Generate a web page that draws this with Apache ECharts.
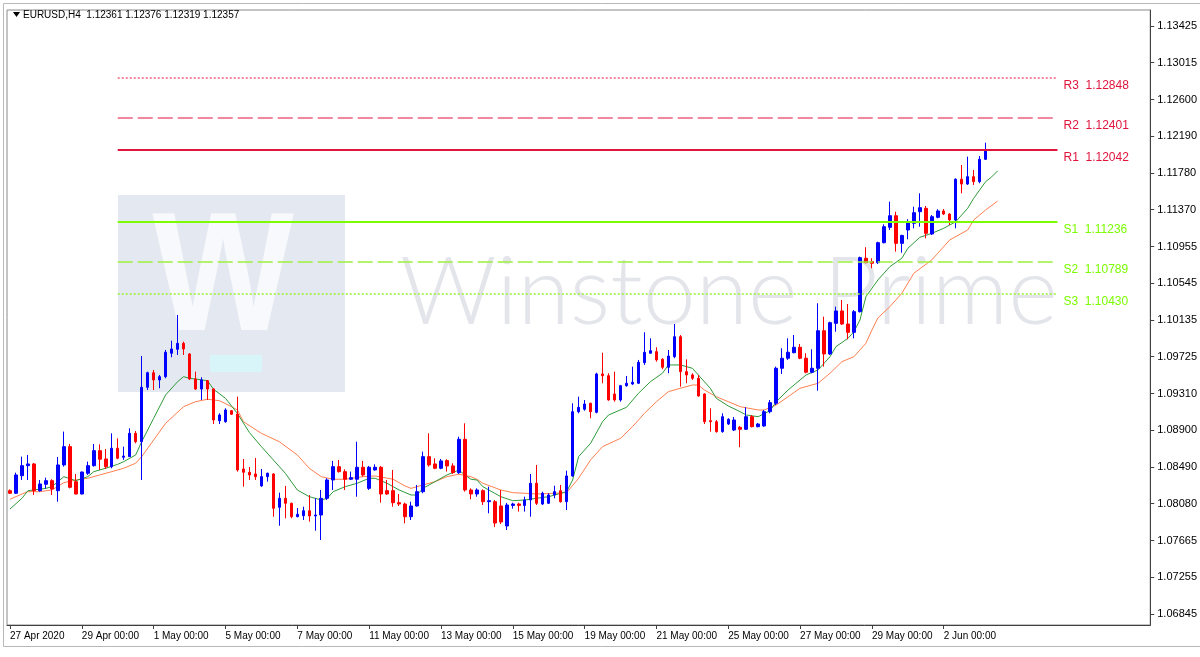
<!DOCTYPE html>
<html><head><meta charset="utf-8">
<script src="https://cdn.jsdelivr.net/npm/echarts@6/dist/echarts.min.js"></script>
<style>html,body{margin:0;padding:0;background:#fff}#c{width:1200px;height:657px}</style>
</head><body><div id="c"></div>
<script>
// ---- data (EURUSD H4) ----
const opens = [1.08225,1.08196,1.08393,1.08505,1.08524,1.08225,1.08297,1.08337,1.08225,1.08513,1.08718,1.08326,1.08188,1.08420,1.08505,1.08673,1.08580,1.08494,1.08700,1.08599,1.08606,1.08867,1.08773,1.09382,1.09545,1.09464,1.09501,1.09763,1.09807,1.09874,1.09755,1.09475,1.09363,1.09456,1.09363,1.09008,1.08997,1.09120,1.09083,1.08468,1.08431,1.08412,1.08278,1.08382,1.08412,1.08039,1.08140,1.08084,1.07934,1.07945,1.08001,1.07942,1.07953,1.08140,1.08345,1.08494,1.08438,1.08353,1.08353,1.08487,1.08251,1.08457,1.08487,1.08225,1.08225,1.08091,1.08076,1.07934,1.08054,1.08214,1.08606,1.08524,1.08476,1.08562,1.08502,1.08427,1.08800,1.08233,1.08188,1.08225,1.08102,1.08102,1.08054,1.07830,1.08060,1.08076,1.08060,1.08121,1.08308,1.08076,1.08084,1.08177,1.08225,1.08102,1.08390,1.09109,1.09136,1.09203,1.09102,1.09531,1.09512,1.09307,1.09240,1.09400,1.09419,1.09427,1.09658,1.09763,1.09781,1.09696,1.09606,1.09725,1.09948,1.09557,1.09520,1.09483,1.09307,1.09008,1.08997,1.08886,1.08971,1.08904,1.08934,1.08912,1.09053,1.08941,1.08949,1.09109,1.09203,1.09595,1.09707,1.09769,1.09830,1.09707,1.09550,1.09595,1.10015,1.09755,1.10098,1.10236,1.10090,1.09997,1.10228,1.10826,1.10788,1.10777,1.11000,1.11172,1.11302,1.10993,1.11142,1.11217,1.11347,1.11385,1.11098,1.11284,1.11355,1.11321,1.11254,1.11710,1.11657,1.11739,1.11683,1.11933];
const highs = [1.08240,1.08427,1.08606,1.08625,1.08535,1.08345,1.08371,1.08353,1.08602,1.08886,1.08748,1.08412,1.08438,1.08550,1.08748,1.08744,1.08692,1.08867,1.08811,1.08718,1.08923,1.08893,1.09732,1.09557,1.09576,1.09520,1.09800,1.09904,1.10191,1.09893,1.09763,1.09557,1.09494,1.09464,1.09371,1.09091,1.09147,1.09128,1.09277,1.08580,1.08490,1.08591,1.08468,1.08427,1.08420,1.08203,1.08278,1.08091,1.08031,1.08046,1.08177,1.08140,1.08233,1.08364,1.08558,1.08569,1.08465,1.08438,1.08773,1.08558,1.08502,1.08520,1.08502,1.08345,1.08457,1.08188,1.08091,1.08102,1.08289,1.08662,1.08867,1.08588,1.08580,1.08577,1.08532,1.08829,1.08979,1.08251,1.08251,1.08240,1.08270,1.08121,1.08233,1.08088,1.08091,1.08091,1.08158,1.08412,1.08513,1.08214,1.08196,1.08281,1.08289,1.08449,1.09203,1.09277,1.09240,1.09210,1.09545,1.09769,1.09539,1.09557,1.09408,1.09509,1.09613,1.09688,1.09998,1.09930,1.09830,1.09707,1.09800,1.10090,1.09967,1.09695,1.09539,1.09520,1.09315,1.09147,1.09016,1.09091,1.09035,1.09050,1.08949,1.09158,1.09072,1.08983,1.09128,1.09240,1.09613,1.09819,1.09930,1.09967,1.09867,1.09763,1.09808,1.10322,1.10172,1.10116,1.10284,1.10359,1.10314,1.10247,1.10844,1.10949,1.10826,1.11011,1.11206,1.11459,1.11347,1.11089,1.11262,1.11403,1.11553,1.11411,1.11310,1.11374,1.11377,1.11329,1.11721,1.11870,1.11963,1.11814,1.11970,1.12119];
const lows = [1.08188,1.08188,1.08345,1.08345,1.08177,1.08214,1.08251,1.08177,1.08102,1.08494,1.08251,1.08183,1.08183,1.08401,1.08494,1.08457,1.08468,1.08476,1.08577,1.08569,1.08602,1.08755,1.08345,1.09352,1.09352,1.09371,1.09483,1.09718,1.09744,1.09744,1.09464,1.09352,1.09240,1.09240,1.08971,1.08971,1.08986,1.09072,1.08438,1.08270,1.08345,1.08345,1.08270,1.08326,1.07934,1.07833,1.07916,1.07916,1.07927,1.07897,1.07878,1.07777,1.07673,1.08121,1.08233,1.08427,1.08233,1.08345,1.08158,1.08382,1.08233,1.08450,1.08091,1.08177,1.08046,1.08054,1.07860,1.07897,1.08046,1.08196,1.08494,1.08465,1.08465,1.08438,1.08412,1.08412,1.08214,1.08129,1.08158,1.08065,1.07972,1.07818,1.07852,1.07785,1.08024,1.07991,1.07991,1.07934,1.08065,1.08065,1.08076,1.08140,1.08091,1.08009,1.08382,1.09091,1.09120,1.09035,1.09091,1.09427,1.09232,1.09221,1.09221,1.09389,1.09408,1.09419,1.09632,1.09760,1.09669,1.09584,1.09539,1.09707,1.09389,1.09427,1.09464,1.09277,1.08971,1.08886,1.08874,1.08874,1.08960,1.08893,1.08711,1.08904,1.08934,1.08934,1.08941,1.09091,1.09184,1.09531,1.09688,1.09763,1.09696,1.09539,1.09539,1.09344,1.09613,1.09744,1.10004,1.10079,1.09919,1.09930,1.10219,1.10770,1.10714,1.10762,1.10993,1.11142,1.10900,1.10888,1.11038,1.11161,1.11179,1.11049,1.11086,1.11273,1.11310,1.11198,1.11161,1.11553,1.11646,1.11646,1.11665,1.11926];
const closes = [1.08196,1.08401,1.08505,1.08524,1.08225,1.08300,1.08337,1.08244,1.08513,1.08718,1.08263,1.08188,1.08434,1.08505,1.08673,1.08577,1.08494,1.08700,1.08588,1.08613,1.08867,1.08773,1.09382,1.09545,1.09464,1.09501,1.09774,1.09811,1.09874,1.09811,1.09475,1.09363,1.09464,1.09363,1.09016,1.09072,1.09128,1.09080,1.08457,1.08431,1.08401,1.08382,1.08382,1.08420,1.08028,1.08140,1.08084,1.07934,1.07961,1.08001,1.07942,1.07953,1.08140,1.08345,1.08494,1.08438,1.08353,1.08371,1.08487,1.08401,1.08487,1.08487,1.08188,1.08188,1.08091,1.08076,1.07934,1.08054,1.08214,1.08606,1.08513,1.08476,1.08558,1.08502,1.08427,1.08800,1.08233,1.08188,1.08233,1.08102,1.08113,1.07863,1.07875,1.08065,1.08076,1.08060,1.08121,1.08308,1.08084,1.08196,1.08177,1.08214,1.08102,1.08390,1.09109,1.09158,1.09195,1.09109,1.09531,1.09512,1.09240,1.09240,1.09400,1.09427,1.09438,1.09662,1.09774,1.09792,1.09688,1.09606,1.09732,1.09948,1.09557,1.09520,1.09483,1.09285,1.08997,1.08997,1.08886,1.09053,1.09024,1.09016,1.08912,1.09053,1.08941,1.08971,1.09109,1.09210,1.09595,1.09707,1.09774,1.09830,1.09707,1.09550,1.09595,1.10015,1.09755,1.10105,1.10236,1.10090,1.09997,1.10228,1.10833,1.10777,1.10770,1.11000,1.11179,1.11302,1.10993,1.11081,1.11224,1.11336,1.11392,1.11105,1.11291,1.11355,1.11321,1.11254,1.11710,1.11657,1.11739,1.11683,1.11933,1.12030];

// moving averages, read at bar positions
const maFastBars = [0,2,3,4,6,7,9,11,13,14,16,18,19,21,22,24,26,28,29,30,33,34,36,38,40,42,44,46,48,50,52,53,54,56,58,60,61,63,65,67,68,69,71,73,75,76,77,78,79,82,84,86,88,90,93,94,95,97,99,100,103,105,107,109,110,112,114,115,117,118,120,122,123,125,127,128,130,132,133,135,137,138,140,141,142,143,145,147,149,150,152,154,156,158,160,161,163,164,165];
const maFastVals = [1.08020,1.08140,1.08225,1.08233,1.08251,1.08270,1.08382,1.08337,1.08382,1.08438,1.08476,1.08520,1.08550,1.08625,1.08773,1.09035,1.09296,1.09445,1.09501,1.09483,1.09456,1.09360,1.09259,1.09089,1.08876,1.08718,1.08569,1.08420,1.08233,1.08158,1.08121,1.08140,1.08214,1.08270,1.08308,1.08364,1.08364,1.08308,1.08233,1.08177,1.08177,1.08251,1.08326,1.08401,1.08457,1.08401,1.08353,1.08345,1.08270,1.08158,1.08113,1.08121,1.08140,1.08158,1.08214,1.08345,1.08606,1.08755,1.08997,1.09072,1.09158,1.09315,1.09445,1.09539,1.09632,1.09632,1.09595,1.09520,1.09371,1.09259,1.09173,1.09109,1.09072,1.09053,1.09120,1.09221,1.09352,1.09464,1.09520,1.09576,1.09725,1.09837,1.09930,1.10004,1.10135,1.10396,1.10583,1.10732,1.10826,1.10937,1.11060,1.11105,1.11161,1.11235,1.11385,1.11496,1.11683,1.11736,1.11803];
const maSlowBars = [0,2,3,5,7,9,11,13,15,17,19,21,22,24,26,29,31,33,35,37,38,39,42,45,48,50,52,54,56,59,61,64,66,67,69,71,73,75,77,78,79,82,84,86,88,91,93,95,97,99,102,104,106,108,110,112,114,115,116,118,120,122,125,126,128,130,132,135,137,139,141,143,144,145,147,149,151,154,155,157,160,161,163,165];
const maSlowVals = [1.08129,1.08188,1.08214,1.08214,1.08233,1.08315,1.08345,1.08364,1.08401,1.08438,1.08476,1.08532,1.08606,1.08792,1.08979,1.09165,1.09221,1.09248,1.09232,1.09165,1.09128,1.08997,1.08867,1.08773,1.08625,1.08476,1.08382,1.08353,1.08353,1.08382,1.08390,1.08353,1.08278,1.08251,1.08289,1.08326,1.08382,1.08409,1.08382,1.08353,1.08308,1.08233,1.08203,1.08196,1.08188,1.08196,1.08203,1.08364,1.08569,1.08718,1.08811,1.08941,1.09091,1.09221,1.09333,1.09371,1.09408,1.09408,1.09352,1.09277,1.09221,1.09165,1.09128,1.09128,1.09184,1.09277,1.09371,1.09427,1.09539,1.09669,1.09725,1.09875,1.10023,1.10158,1.10284,1.10434,1.10658,1.10807,1.10882,1.11031,1.11142,1.11254,1.11366,1.11466];

// pivot levels
const levelNames  = ['R3','R2','R1','S1','S2','S3'];
const levelValues = [1.12848,1.12401,1.12042,1.11236,1.10789,1.10430];
const levelStartBar = 18, levelEndBar = 175;

// axes
const yTicks = [1.13425,1.13015,1.12600,1.12190,1.11780,1.11370,1.10955,1.10545,1.10135,1.09725,1.09310,1.08900,1.08490,1.08080,1.07665,1.07255,1.06845];
const yMin = 1.06722, yMax = 1.13604;
const barSlots = 191;
const xLabels    = ['27 Apr 2020','29 Apr 00:00','1 May 00:00','5 May 00:00','7 May 00:00','11 May 00:00','13 May 00:00','15 May 00:00','19 May 00:00','21 May 00:00','25 May 00:00','27 May 00:00','29 May 00:00','2 Jun 00:00'];
const xLabelBars = [0,12,24,36,48,60,72,84,96,108,120,132,144,156];
const headerText = 'EURUSD,H4  1.12361 1.12376 1.12319 1.12357';

// ---- build ----
const cats = Array.from({length: barSlots}, (_, i) => String(i));
const labelAt = {}; xLabelBars.forEach((b, i) => labelAt[b] = xLabels[i]);
const candleData = opens.map((o, i) => [o, closes[i], lows[i], highs[i]]);
const pairs = (bs, vs) => bs.map((b, i) => [b, vs[i]]);

const rColor = '#e0143c', sColor = '#7cfc00';
const rLight = '#ee5f7c', sLight = '#9cf03c';
const styles = ['dotted','dashed','solid','solid','dashed','dotted'];
const dashOf = {dotted: [2, 2], dashed: [15, 5], solid: 'solid'};
const levelMarks = levelNames.map((n, i) => {
  const isR = n[0] === 'R';
  const c = isR ? rColor : sColor;
  const st = styles[i];
  return [
    {coord: [levelStartBar, levelValues[i]], symbol: 'none',
      lineStyle: {color: st === 'solid' ? c : (isR ? rLight : sLight), width: st === 'solid' ? 2 : 1.6, type: dashOf[st], opacity: 1},
      label: {show: true, position: 'end', formatter: n + '  ' + levelValues[i].toFixed(5), color: c,
        fontSize: 12, fontFamily: 'Liberation Sans', distance: 6, offset: [0, 8]}},
    {coord: [levelEndBar, levelValues[i]], symbol: 'none'}
  ];
});

const chart = echarts.init(document.getElementById('c'), null, {renderer: 'canvas'});
chart.setOption({
  animation: false,
  backgroundColor: '#ffffff',
  grid: {left: 7, right: 47, top: 10, bottom: 32, show: true, borderColor: '#8a8a8a', borderWidth: 1},
  xAxis: {
    type: 'category', data: cats, boundaryGap: true,
    axisLine: {show: true, lineStyle: {color: '#404040'}},
    axisTick: {show: true, alignWithLabel: true, length: 4, lineStyle: {color: '#404040'},
      interval: (idx) => labelAt[idx] !== undefined},
    axisLabel: {show: true, interval: (idx) => labelAt[idx] !== undefined,
      formatter: (v, idx) => labelAt[idx] || '', align: 'left', margin: 6,
      color: '#000', fontSize: 10, fontFamily: 'Liberation Sans'},
    splitLine: {show: false}
  },
  yAxis: {
    type: 'value', position: 'right', min: yMin, max: yMax, scale: true,
    axisLine: {show: true, lineStyle: {color: '#404040'}},
    axisTick: {show: true, length: 4, lineStyle: {color: '#404040'}, customValues: yTicks},
    axisLabel: {show: true, customValues: yTicks, formatter: v => v.toFixed(5),
      color: '#000', fontSize: 11, fontFamily: 'Liberation Sans', margin: 7},
    splitLine: {show: false}
  },
  graphic: [
    {type: 'polyline', z: 5, shape: {points: [[3.5, 646.5], [3.5, 3.5], [1200, 3.5]]}, style: {stroke: '#b8b8b8', fill: null, lineWidth: 1}},
    {type: 'line', z: 5, shape: {x1: 3.5, y1: 646.5, x2: 1200, y2: 646.5}, style: {stroke: '#b8b8b8', lineWidth: 1}},
    {type: 'rect', z: -10, shape: {x: 118, y: 195, width: 227, height: 197}, style: {fill: '#e4e8f0'}},
    {type: 'text', z: -9, x: 223, y: 200, scaleY: 1.12, style: {text: 'W', fill: '#f8f9fc', font: 'bold 150px "Liberation Sans"', textAlign: 'center'}},
    {type: 'rect', z: -9, shape: {x: 210, y: 355, width: 52, height: 17}, style: {fill: '#d8f5fa'}},
    {type: 'text', z: -10, x: 400, y: 246, style: {text: 'Winstone Prime', fill: '#e3e5ea', font: '300 95px Lato'}},
    {type: 'polygon', shape: {points: [[13, 12], [20, 12], [16.5, 17]]}, style: {fill: '#000'}},
    {type: 'text', x: 23, y: 10, style: {text: headerText, fill: '#000', font: '10px "Liberation Sans"'}}
  ],
  series: [
    {type: 'line', silent: true, symbol: 'none', z: 1, data: [],
      markLine: {silent: true, symbol: 'none', animation: false, data: levelMarks}},
    {type: 'line', silent: true, symbol: 'none', z: 3, data: pairs(maSlowBars, maSlowVals),
      lineStyle: {color: '#ff7f50', width: 1}},
    {type: 'line', silent: true, symbol: 'none', z: 3, data: pairs(maFastBars, maFastVals),
      lineStyle: {color: '#2e9a3a', width: 1}},
    {type: 'candlestick', z: 4, barWidth: 3, data: candleData,
      itemStyle: {color: '#0000ff', color0: '#ff0000', borderColor: '#0000ff', borderColor0: '#ff0000', borderWidth: 1}}
  ]
});
</script></body></html>
